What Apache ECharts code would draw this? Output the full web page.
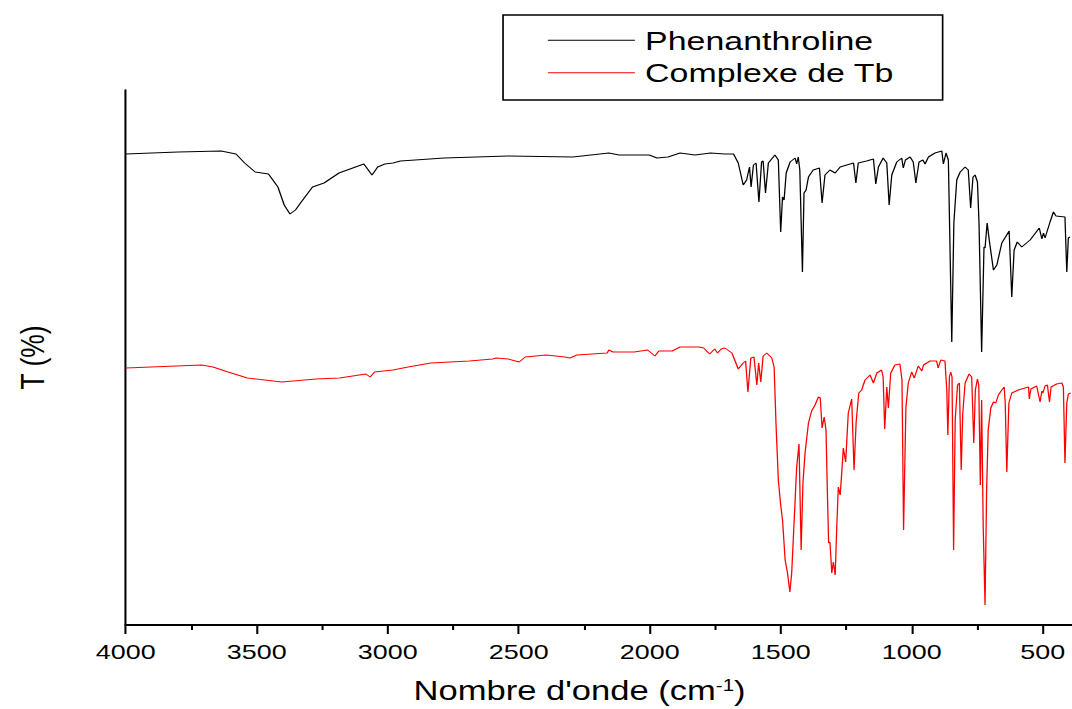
<!DOCTYPE html>
<html>
<head>
<meta charset="utf-8">
<title>Spectres IR</title>
<script src="https://cdn.jsdelivr.net/npm/echarts@6/dist/echarts.min.js"></script>
<style>
  html, body { margin: 0; padding: 0; background: #fff; overflow: hidden; }
  /* the figure is laid out narrower and stretched horizontally */
  #chart { width: 837.5px; height: 709px; transform: scaleX(1.28); transform-origin: 0 0; }
</style>
</head>
<body>
<div id="chart"></div>
<script>
// Wavenumbers (cm-1) and transmittance (arbitrary offset units) for each spectrum
const phenWn = [4000, 3800, 3636, 3579, 3546, 3506, 3455, 3419, 3395, 3373, 3352, 3330,
  3287, 3243, 3186, 3091, 3060, 3038, 3011, 2980, 2951, 2784,
  2540, 2293, 2156, 2117, 2002, 1972, 1930, 1884, 1827, 1768,
  1713, 1680, 1662, 1643, 1630, 1619, 1613, 1604, 1594, 1583,
  1573, 1567, 1558, 1547, 1522, 1509, 1500, 1493, 1487, 1479,
  1464, 1445, 1439, 1433, 1427, 1417, 1411, 1403, 1394, 1376,
  1352, 1342, 1331, 1312, 1292, 1273, 1248, 1222, 1213, 1204,
  1172, 1146, 1137, 1127, 1109, 1095, 1086, 1076, 1057, 1038,
  1032, 1024, 1006, 994, 984, 972, 957, 949, 936, 911,
  885, 879, 869, 860, 847, 839, 828, 815, 796, 784,
  775, 766, 758, 749, 743, 733, 724, 720, 712, 704,
  688, 675, 656, 628, 618, 609, 597, 580, 548, 513,
  503, 497, 491, 472, 459, 449, 415, 408, 402, 396];
const phenT = [471, 473, 474, 471, 462, 453, 451, 438, 420, 411, 415, 423,
  438, 442, 452, 461, 450, 458, 461, 462, 464, 467,
  469, 468, 472, 470, 470, 467, 468, 472, 470, 472,
  471, 471, 462, 440, 445, 458, 438, 460, 462, 423,
  463, 464, 432, 462, 470, 465, 393, 428, 425, 452,
  463, 467, 461, 468, 455, 353, 432, 435, 448, 455,
  457, 422, 450, 455, 452, 458, 460, 462, 442, 462,
  464, 466, 441, 458, 467, 462, 420, 450, 463, 467,
  457, 465, 468, 463, 442, 463, 465, 461, 468, 472,
  474, 461, 472, 465, 283, 402, 445, 453, 458, 455,
  417, 448, 450, 443, 402, 273, 378, 377, 402, 385,
  355, 360, 382, 394, 328, 375, 383, 378, 385, 397,
  386, 392, 387, 403, 413, 409, 408, 353, 387, 388];

const tbWn = [4000, 3710, 3667, 3609, 3536, 3404, 3273, 3184, 3083, 3067,
  3050, 2980, 2922, 2835, 2688, 2600, 2586, 2541, 2498, 2475,
  2395, 2323, 2305, 2278, 2162, 2156, 2140, 2060, 2008, 1980,
  1965, 1914, 1884, 1811, 1794, 1771, 1752, 1741, 1727, 1713,
  1686, 1662, 1643, 1634, 1625, 1614, 1602, 1591, 1584, 1576,
  1567, 1553, 1534, 1525, 1518, 1509, 1500, 1493, 1483, 1474,
  1465, 1458, 1449, 1439, 1430, 1422, 1415, 1407, 1394, 1382,
  1369, 1356, 1349, 1342, 1334, 1327, 1322, 1317, 1312, 1305,
  1299, 1292, 1286, 1280, 1273, 1267, 1261, 1252, 1242, 1229,
  1220, 1212, 1202, 1191, 1178, 1159, 1146, 1133, 1115, 1109,
  1103, 1095, 1089, 1080, 1064, 1045, 1037, 1031, 1022, 1013,
  1000, 990, 975, 961, 955, 930, 905, 899, 889, 873,
  866, 862, 856, 851, 846, 840, 834, 825, 818, 811,
  805, 796, 781, 771, 763, 757, 749, 744, 738, 733,
  727, 720, 714, 708, 698, 688, 679, 669, 656, 647,
  643, 637, 629, 618, 593, 554, 551, 545, 523, 510,
  503, 499, 491, 482, 474, 468, 447, 427, 421, 415,
  408, 402, 393];
const tbT = [257, 260, 258, 253, 247, 243, 246, 247, 251, 248,
  253, 255, 258, 262, 264, 266, 267, 266, 263, 268,
  270, 268, 267, 270, 272, 275, 273, 273, 275, 269,
  274, 274, 278, 278, 277, 271, 276, 272, 276, 277,
  272, 256, 262, 264, 233, 267, 268, 240, 262, 243,
  269, 272, 267, 258, 202, 145, 120, 105, 65, 52,
  33, 52, 102, 158, 181, 75, 142, 172, 202, 214,
  220, 228, 227, 197, 208, 195, 135, 82, 83, 52,
  63, 50, 98, 138, 130, 152, 177, 163, 212, 226,
  155, 203, 232, 235, 245, 250, 242, 252, 255, 248,
  196, 238, 217, 252, 260, 261, 245, 95, 218, 242,
  253, 247, 259, 254, 260, 264, 264, 257, 265, 264,
  235, 190, 248, 253, 248, 75, 205, 240, 242, 155,
  212, 242, 251, 248, 182, 235, 246, 240, 140, 225,
  98, 20, 135, 195, 217, 223, 222, 230, 235, 238,
  222, 153, 222, 232, 235, 238, 226, 236, 239, 223,
  234, 232, 239, 240, 223, 238, 241, 242, 238, 162,
  222, 231, 232];

// Axis ticks
const majorTicks = [4000, 3500, 3000, 2500, 2000, 1500, 1000, 500];
const minorTicks = [3750, 3250, 2750, 2250, 1750, 1250, 750];

const seriesNames = ['Phenanthroline', 'Complexe de Tb'];

const zip = (xs, ys) => xs.map((x, i) => [x, ys[i]]);
const FONT = '"Liberation Sans", Arial, Helvetica, sans-serif';

const chart = echarts.init(document.getElementById('chart'), null, {
  renderer: 'svg', width: 837.5, height: 709
});

const xCommon = {
  type: 'value', inverse: true, min: 350, max: 4000,
  position: 'bottom', splitLine: { show: false }
};

chart.setOption({
  animation: false,
  backgroundColor: '#fff',
  textStyle: { fontFamily: FONT },
  grid: { left: 98.2, right: -7.8, top: 90, bottom: 84, containLabel: false, outerBoundsMode: 'none' },
  legend: {
    orient: 'vertical', left: 393, top: 15,
    padding: [11.75, 38, 13.75, 35],
    icon: 'rect', itemWidth: 68, itemHeight: 1.1, itemGap: 5.5,
    borderColor: '#000', borderWidth: 1.3,
    textStyle: { fontSize: 26.5, color: '#000', fontFamily: FONT, padding: [0, 0, 0, 3], lineHeight: 26.5 },
    data: seriesNames
  },
  xAxis: [
    Object.assign({}, xCommon, {
      axisLine: { show: true, onZero: false, lineStyle: { color: '#000', width: 2 } },
      axisTick: { show: true, customValues: majorTicks, length: 9, lineStyle: { color: '#000', width: 1.6 } },
      axisLabel: {
        customValues: majorTicks, fontSize: 21, color: '#000', margin: 16, fontFamily: FONT,
        formatter: v => String(v)
      },
      name: "{n|Nombre d'onde (cm}{s|-1}{n|)}",
      nameLocation: 'middle', nameGap: 52,
      nameTextStyle: {
        padding: [0, 38, 0, 0],
        rich: {
          n: { fontSize: 27, color: '#000', fontFamily: FONT },
          s: { fontSize: 16, color: '#000', fontFamily: FONT, verticalAlign: 'top' }
        }
      }
    }),
    Object.assign({}, xCommon, {
      axisLine: { show: false },
      axisTick: { show: true, customValues: minorTicks, length: 5, lineStyle: { color: '#000', width: 1.6 } },
      axisLabel: { show: false }
    })
  ],
  yAxis: {
    type: 'value', min: 0, max: 535,
    axisLine: { show: true, onZero: false, lineStyle: { color: '#000', width: 1.6 } },
    axisTick: { show: false }, axisLabel: { show: false }, splitLine: { show: false },
    name: 'T (%)', nameLocation: 'middle', nameRotate: 90, nameGap: 60,
    nameTextStyle: { fontSize: 26.5, color: '#000', fontFamily: FONT }
  },
  series: [
    {
      name: seriesNames[0], type: 'line', xAxisIndex: 0, symbol: 'none',
      data: zip(phenWn, phenT),
      lineStyle: { color: '#000', width: 1 }, itemStyle: { color: '#000' }
    },
    {
      name: seriesNames[1], type: 'line', xAxisIndex: 0, symbol: 'none',
      data: zip(tbWn, tbT),
      lineStyle: { color: '#ff0000', width: 1 }, itemStyle: { color: '#ff0000' }
    }
  ]
});
</script>
</body>
</html>
